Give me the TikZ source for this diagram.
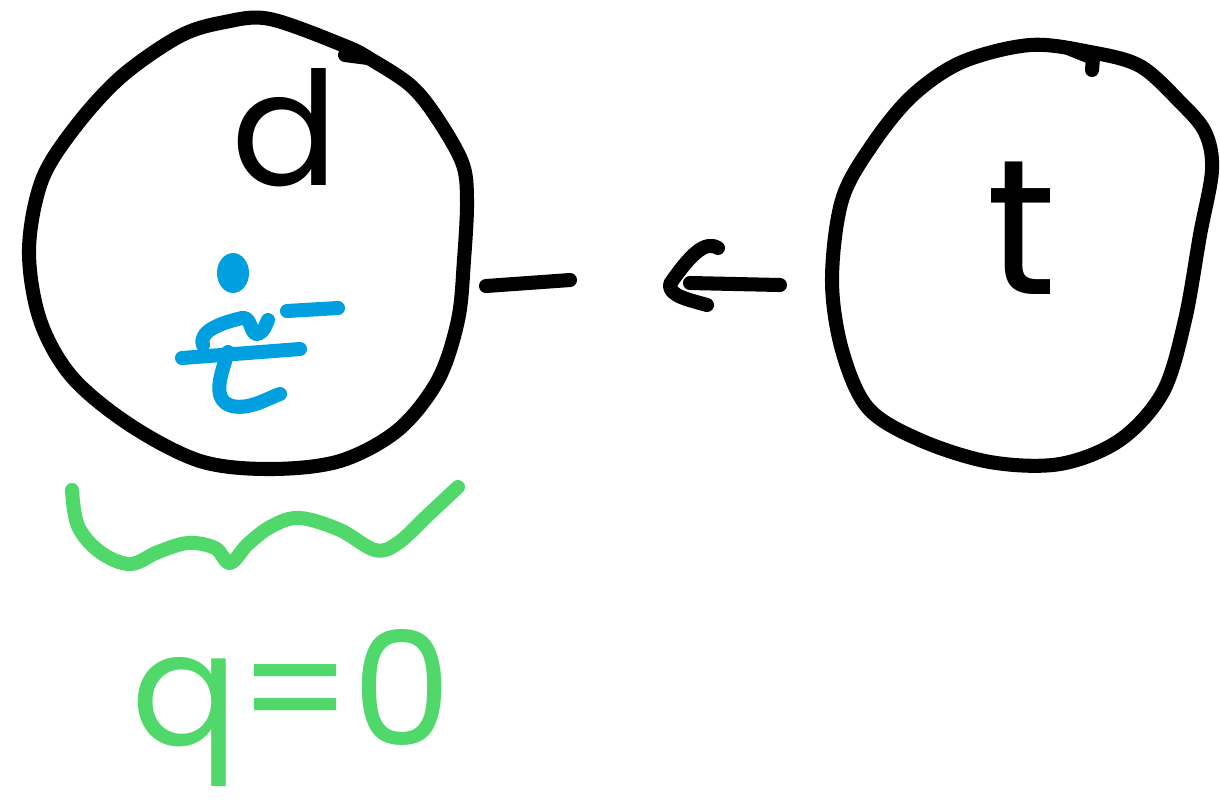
\documentclass[tikz,border=0pt]{standalone}
\usepackage{fontspec}
\setmainfont{Poppins}
\definecolor{inkblue}{RGB}{0,160,224}
\definecolor{inkgreen}{RGB}{80,216,106}
\tikzset{
  pen/.style={line width=8pt, line cap=round, line join=round},
  hand/.style={font=\fontsize{90}{90}\selectfont, inner sep=0pt}
}
\begin{document}
\begin{tikzpicture}[x=0.02cm, y=-0.02cm]
\useasboundingbox (0,0) rectangle (1220,806);
% left circle
\draw[pen] plot[smooth cycle, tension=0.55] coordinates {
 (270,19) (345,46) (372,60) (410,85) (435,115) (462,162) (467,200) (464,260)
 (458,320) (438,380) (398,430) (340,461) (270,469) (200,461) (130,425)
 (72,377) (40,320) (29,250) (42,180) (76,126) (122,76) (180,36) (225,22)};
\draw[pen] (345,55) -- (368,58);
\coordinate (Le) at (486,286);
% right circle
\draw[pen] plot[smooth cycle, tension=0.55] coordinates {
 (1030,45) (1090,52) (1140,66) (1180,102) (1205,132) (1212,170) (1200,235)
 (1185,320) (1163,392) (1120,440) (1060,464) (990,462) (920,440) (868,408)
 (842,350) (832,280) (842,200) (872,145) (912,96) (962,62)};
\draw[pen] (1068,48) -- (1093,58) -- (1092,70);
\coordinate (Rw) at (780,285);
% connector
\coordinate (gap) at (570,280);
\coordinate (tip) at (670,284);
\draw[pen] (Le) -- (gap);
\draw[pen] (Rw) -- (690,283);
\draw[pen] (718,248) .. controls (705,240) and (690,255) .. (tip)
   .. controls (668,296) and (690,300) .. (707,305);
% labels
\node[hand, anchor=base] (d) at (285,185) {d};
\node[hand, anchor=base, font=\fontsize{110}{110}\selectfont] (t) at (1022,294) {t};
\node[hand, anchor=base, text=inkgreen] (eq) at (292,745) {q=0};
% blue scribble
\fill[inkblue] (233,273) ellipse [x radius=16, y radius=20];
\draw[pen, inkblue] (287,311) -- (338,308);
\draw[pen, inkblue] (203,345) .. controls (198,330) and (225,322) .. (242,318)
   .. controls (252,316) and (250,336) .. (258,334) .. controls (264,332) and (266,324) .. (268,320);
\draw[pen, inkblue] (182,358) -- (300,349);
\draw[pen, inkblue] (228,352) .. controls (222,372) and (210,400) .. (232,406)
   .. controls (250,410) and (268,398) .. (280,394);
% green squiggle
\draw[pen, inkgreen] plot[smooth, tension=0.6] coordinates {
 (72,490) (78,526) (100,552) (130,564) (158,552) (188,543) (215,548) (230,563)
 (248,544) (272,526) (300,518) (340,530) (375,550) (398,543) (428,515) (458,487)};
\end{tikzpicture}
\end{document}
